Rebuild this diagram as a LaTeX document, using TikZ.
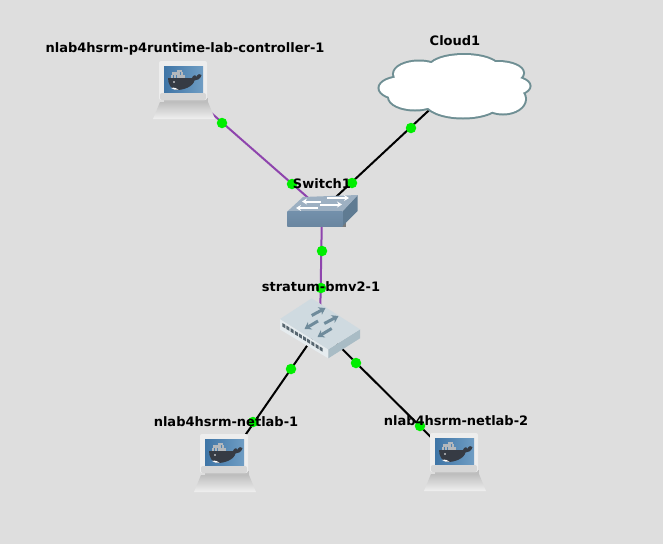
\documentclass[tikz,border=0pt]{standalone}
\usepackage{fontspec}
\setmainfont{DejaVu Sans}
\usetikzlibrary{arrows.meta}
\definecolor{bgc}{HTML}{DEDEDE}
\definecolor{purp}{HTML}{8E44AD}
\definecolor{dotg}{HTML}{00EE00}
\definecolor{cloudl}{HTML}{6F8F94}
\definecolor{scrA}{HTML}{3F75A6}
\definecolor{scrB}{HTML}{6F9DC4}
\definecolor{whale}{HTML}{363B44}
\definecolor{crate}{HTML}{B4B8BC}
\definecolor{swFront}{HTML}{7390AB}
\definecolor{swFrontB}{HTML}{6A86A0}
\definecolor{swTop}{HTML}{9DB0C2}
\definecolor{swSide}{HTML}{5F7B92}
\definecolor{stTop}{HTML}{CFDAE0}
\definecolor{stLeft}{HTML}{E6ECEF}
\definecolor{stRight}{HTML}{A9BCC5}
\definecolor{stArrow}{HTML}{6F8B9B}
\definecolor{stPort}{HTML}{56656F}
\definecolor{baseTop}{HTML}{BEBEBE}
\definecolor{baseBot}{HTML}{F0F0F0}
\definecolor{monA}{HTML}{EDEDED}
\definecolor{monB}{HTML}{D6D6D6}
\tikzset{
  anchorpt/.style={inner sep=0pt,minimum size=0pt,outer sep=0pt},
  blackline/.style={draw=black,line width=2pt},
  purpline/.style={draw=purp,line width=2pt},
  gdot/.style={circle,fill=dotg,inner sep=0pt,minimum size=10.5pt},
  lab/.style={font=\bfseries\fontsize{13}{15}\selectfont,text=black,inner sep=0pt},
  pics/laptop/.style={code={
    % cover behind the stand, so a connector ends at the outline of the icon
    \fill[baseTop] (-21,8) rectangle (23,13);
    % base
    \shade[top color=baseTop,bottom color=baseBot]
      (-25,12) -- (23,12) -- (30,29) -- (-32,29) -- cycle;
    % monitor
    \fill[rounded corners=2pt,monA] (-26,-29) rectangle (22,10);
    \fill[rounded corners=2pt,monB] (-25,3) rectangle (21,10);
    % screen
    \shade[left color=scrA,right color=scrB] (-21,-24) rectangle (18,2);
    % containers
    \foreach \j in {0,1,2,3,4}{\fill[crate] (-14+\j*2.8,-12.2) rectangle +(2.3,-2.5);}
    \foreach \j in {0,1,2,3}{\fill[crate] (-12.6+\j*2.8,-15.1) rectangle +(2.3,-2.5);}
    \foreach \j in {0,1}{\fill[crate] (-8.5+\j*2.8,-18) rectangle +(2.3,-2.5);}
    % whale
    \fill[whale] (-17,-12) -- (7,-12) .. controls (8,-15) and (11,-16) .. (11,-13)
      .. controls (13,-16) and (15,-17) .. (16.5,-15) .. controls (15.5,-11) and (12.5,-9.5) .. (9.5,-9.5)
      .. controls (8,-3) and (-2,0) .. (-8,0) .. controls (-14,0) and (-17,-6) .. (-17,-12) -- cycle;
    \fill[white] (-14,-2) .. controls (-10,-3) and (-9,-1.5) .. (-6.5,-0.5) .. controls (-10,0) and (-12,-0.5) .. (-14,-2) -- cycle;
    \fill[white] (-11,-8) circle (0.9pt);
  }},
}
\begin{document}
\begin{tikzpicture}[x=1pt,y=-1pt]
\useasboundingbox (0,0) rectangle (663,544);
\fill[bgc] (0,0) rectangle (663,544);

% anchors for the devices
\node[anchorpt] (ctrl) at (185,90) {};
\node[anchorpt] (cloud) at (455,86) {};
\node[anchorpt] (sw) at (322,210) {};
\node[anchorpt] (st) at (320,327) {};
\node[anchorpt] (nl1) at (226,463) {};
\node[anchorpt] (nl2) at (456,462) {};

% connectors
\draw[blackline] (sw) -- (cloud);
\draw[blackline] (st) -- (nl1);
\draw[blackline] (st) -- (nl2);
\draw[purpline] (ctrl) -- (sw);
\draw[purpline] (sw) -- (st);

% laptops
\pic at (ctrl) {laptop};
\pic at (nl1) {laptop};
\pic at (nl2) {laptop};

% cloud
\foreach \stage/\opts in {0/{draw=cloudl,line width=4pt},1/{fill=white}}{
  \expandafter\path\expandafter[\opts]
    (464,68) ellipse [x radius=35,y radius=13]
    (419,74) ellipse [x radius=25,y radius=12.5]
    (498,73) ellipse [x radius=25,y radius=11]
    (403,88) ellipse [x radius=23.5,y radius=11]
    (415,97) ellipse [x radius=26,y radius=12.5]
    (505,86) ellipse [x radius=24.5,y radius=10]
    (503,99) ellipse [x radius=22,y radius=14.5]
    (463,102) ellipse [x radius=37.5,y radius=15.5]
    (455,86) ellipse [x radius=48,y radius=17];
}

% switch
\fill[black!45!bgc] (289,213) rectangle (346,227);
\fill[swSide] (342.5,211) -- (357.7,195) -- (357.7,211) -- (342.5,226) -- cycle;
\fill[swTop] (287.3,211.5) -- (303,197) -- (357.7,195) -- (342.5,211.5) -- cycle;
\shade[top color=swFront,bottom color=swFrontB] (287.3,211.5) rectangle (342.5,226);
\foreach \ax/\ay/\bx/\by in {321/201.5/302/201.5, 327/198/349/198, 318/208/296/208, 320/204.5/342/204.5}{
  \draw[white,line width=2pt,-{Stealth[length=5pt,width=6pt]}] (\ax,\ay) -- (\bx,\by);
}

% stratum switch
\fill[stLeft] (280,319) -- (328.3,349.3) -- (328.3,358.3) -- (280,329.5) -- cycle;
\fill[stRight] (328.3,349.3) -- (360,329.3) -- (360,338.3) -- (328.3,358.3) -- cycle;
\fill[stTop] (280,319) -- (311.7,298.3) -- (360,329.3) -- (328.3,349.3) -- cycle;
\foreach \i in {0,...,9}{
  \fill[stPort] ({282.3+\i*4.15},{323+\i*2.6}) -- +(3,1.8) -- +(3,5.3) -- +(0,3.5) -- cycle;
}
\foreach \ax/\ay/\bx/\by in {311.7/315.5/325.5/308, 324.3/323.5/338.5/316, 318/321/304.5/329, 331.7/328.5/317.5/337}{
  \draw[stArrow,line width=3pt,-{Stealth[length=6.5pt,width=8.5pt]}] (\ax,\ay) -- (\bx,\by);
}

% link markers
\foreach \n/\x/\y in {d1/222/123,d2/292/184,d3/352/183,d4/411/128,d5/322/251,d6/321/288,d7/291/369,d8/253/422,d9/356/363,d10/420/426}{
  \node[gdot] (\n) at (\x,\y) {};
}

% labels
\node[lab] (lctrl) at (185,49) {nlab4hsrm-p4runtime-lab-controller-1};
\node[lab] (lcloud) at (455,40.5) {Cloud1};
\node[lab] (lsw) at (322,183.5) {Switch1};
\node[lab] (lst) at (321,286.5) {stratum-bmv2-1};
\node[lab] (lnl1) at (226,421.5) {nlab4hsrm-netlab-1};
\node[lab] (lnl2) at (456,420.5) {nlab4hsrm-netlab-2};
\end{tikzpicture}
\end{document}
